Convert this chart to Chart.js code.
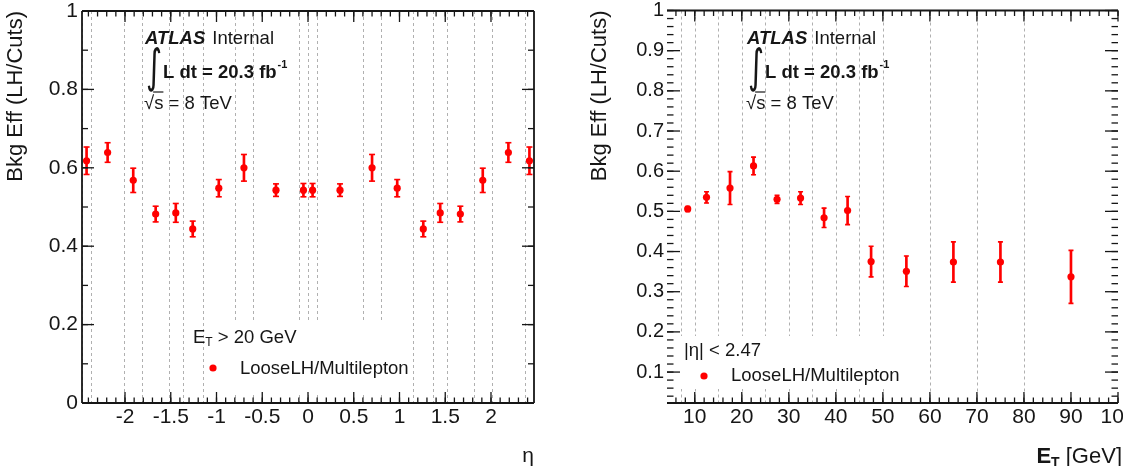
<!DOCTYPE html>
<html><head><meta charset="utf-8">
<script src="https://cdn.jsdelivr.net/npm/chart.js@4.4.1/dist/chart.umd.min.js"></script>
<style>
html,body{margin:0;padding:0;background:#fff;}
#wrap{position:relative;width:1123px;height:466px;overflow:hidden;background:#fff;}
#c1{position:absolute;left:0;top:0;}
#c2{position:absolute;left:560px;top:0;}
</style></head><body>
<div id="wrap"><canvas id="c1" width="560" height="466"></canvas><canvas id="c2" width="563" height="466"></canvas></div>
<script>
const FONT = "'Liberation Sans', Arial, Helvetica, sans-serif";
const RED = '#ff0000';
const INK = '#161616';

// ---------- left panel: efficiency vs eta ----------
const etaBinEdges = [-2.47,-2.37,-2.01,-1.81,-1.52,-1.37,-1.15,-0.8,-0.6,-0.1,0,0.1,0.6,0.8,1.15,1.37,1.52,1.81,2.01,2.37,2.47];
const etaCenters  = [-2.42,-2.19,-1.91,-1.665,-1.445,-1.26,-0.975,-0.7,-0.35,-0.05,0.05,0.35,0.7,0.975,1.26,1.445,1.665,1.91,2.19,2.42];
const etaEff      = [0.618,0.639,0.568,0.482,0.485,0.444,0.548,0.600,0.543,0.543,0.543,0.543,0.600,0.548,0.444,0.485,0.482,0.568,0.639,0.618];
const etaErr      = [0.035,0.025,0.031,0.020,0.024,0.020,0.022,0.034,0.016,0.017,0.017,0.016,0.034,0.022,0.020,0.024,0.020,0.031,0.025,0.035];
const etaTickValues = [-2,-1.5,-1,-0.5,0,0.5,1,1.5,2];
const etaTickLabels = ['-2','-1.5','-1','-0.5','0','0.5','1','1.5','2'];
const effTickValuesL = [0,0.2,0.4,0.6,0.8,1];
const effTickLabelsL = ['0','0.2','0.4','0.6','0.8','1'];

// ---------- right panel: efficiency vs ET ----------
const etBinEdges = [7,10,15,20,25,30,35,40,45,50,60,70,80,100];
const etCenters  = [8.5,12.5,17.5,22.5,27.5,32.5,37.5,42.5,47.5,55,65,75,90];
const etEff      = [0.506,0.535,0.558,0.613,0.530,0.533,0.484,0.502,0.375,0.351,0.374,0.374,0.337];
const etErr      = [0.006,0.014,0.041,0.022,0.010,0.016,0.024,0.035,0.038,0.038,0.050,0.050,0.066];
const etTickValues = [10,20,30,40,50,60,70,80,90,100];
const etTickLabels = ['10','20','30','40','50','60','70','80','90','100'];
const effTickValuesR = [0.1,0.2,0.3,0.4,0.5,0.6,0.7,0.8,0.9,1];
const effTickLabelsR = ['0.1','0.2','0.3','0.4','0.5','0.6','0.7','0.8','0.9','1'];

function range(a, b, step) {
  const out = [];
  const n = Math.round((b - a) / step);
  for (let i = 0; i <= n; i++) out.push(Math.round((a + i * step) * 1000) / 1000);
  return out;
}

function errorDatasets(xs, ys, es, capR) {
  const caps = [];
  xs.forEach((x, i) => { caps.push({x, y: ys[i] - es[i]}); caps.push({x, y: ys[i] + es[i]}); });
  return [
    {type: 'scatter', data: xs.map((x, i) => ({x, y: ys[i]})), pointRadius: 3.6, pointBackgroundColor: RED,
     pointBorderWidth: 0, pointHoverRadius: 3.6, order: 0},
    {type: 'scatter', data: caps, pointStyle: 'line', pointRadius: capR, pointBorderColor: RED,
     pointBorderWidth: 1.6, pointHoverRadius: capR, order: 1},
    {type: 'bar', data: xs.map((x, i) => ({x, y: [ys[i] - es[i], ys[i] + es[i]]})), backgroundColor: RED,
     barThickness: 2, borderWidth: 0, grouped: false, order: 2}
  ];
}

function seg(ctx, x1, y1, x2, y2) { ctx.beginPath(); ctx.moveTo(x1, y1); ctx.lineTo(x2, y2); ctx.stroke(); }

function atlasLabel(ctx, x0) {
  ctx.save();
  ctx.fillStyle = INK; ctx.textBaseline = 'middle'; ctx.textAlign = 'left';
  ctx.font = `italic bold 18.5px ${FONT}`; ctx.fillText('ATLAS', x0, 39);
  const wa = ctx.measureText('ATLAS').width;
  ctx.font = `18.5px ${FONT}`; ctx.fillText('Internal', x0 + wa + 7, 39);
  ctx.font = `bold 18.5px ${FONT}`; ctx.fillText('L dt = 20.3 fb', x0 + 18, 73);
  const w = ctx.measureText('L dt = 20.3 fb').width;
  ctx.font = `bold 11px ${FONT}`; ctx.fillText('-1', x0 + 18 + w + 1, 65);
  ctx.font = `18.5px ${FONT}`; ctx.fillText('\u221As = 8 TeV', x0 - 1, 104);
  const wr = ctx.measureText('\u221A').width, ws = ctx.measureText('\u221As').width;
  ctx.strokeStyle = INK; ctx.lineWidth = 1.2;
  seg(ctx, x0 - 1 + wr - 1, 92, x0 - 1 + ws, 92);
  ctx.font = `44px 'DejaVu Sans'`;
  ctx.translate(x0 + 1, 70); ctx.scale(0.7, 1.05);
  ctx.fillText('\u222B', 0, 0);
  ctx.restore();
}

function drawTickMarks(chart, tk, frame) {
  const ctx = chart.ctx;
  const a = chart.chartArea;
  const xs = chart.scales.x, ys = chart.scales.y;
  ctx.save();
  ctx.setLineDash([]);
  ctx.strokeStyle = '#161616';
  ctx.lineWidth = 1.3;
  for (const v of tk.xMinor) { const p = xs.getPixelForValue(v); seg(ctx, p, a.bottom, p, a.bottom - tk.xMinLen); seg(ctx, p, a.top, p, a.top + tk.xMinLen); }
  for (const v of tk.xMajor) { const p = xs.getPixelForValue(v); seg(ctx, p, a.bottom, p, a.bottom - tk.xMajLen); seg(ctx, p, a.top, p, a.top + tk.xMajLen); }
  for (const v of tk.yMinor) { const p = ys.getPixelForValue(v); seg(ctx, a.left, p, a.left + tk.yMinLen, p); seg(ctx, a.right, p, a.right - tk.yMinLen, p); }
  for (const v of tk.yMajor) { const p = ys.getPixelForValue(v); seg(ctx, a.left, p, a.left + tk.yMajLen, p); seg(ctx, a.right, p, a.right - tk.yMajLen, p); }
  ctx.lineWidth = 1.8;
  if (frame.top) seg(ctx, a.left, a.top, a.right, a.top);
  if (frame.bottom) seg(ctx, a.left, a.bottom, a.right, a.bottom);
  if (frame.left) seg(ctx, a.left, a.top, a.left, a.bottom);
  if (frame.right) seg(ctx, a.right, a.top, a.right, a.bottom);
  ctx.restore();
}

function decoPlugin(cfg) {
  return {
    id: 'deco_' + cfg.name,
    beforeDatasetsDraw(chart) {
      const ctx = chart.ctx, a = chart.chartArea, x = chart.scales.x;
      ctx.save();
      ctx.beginPath(); ctx.rect(a.left, a.top, a.right - a.left, a.bottom - a.top); ctx.clip();
      ctx.strokeStyle = '#b0b0b0'; ctx.lineWidth = 1; ctx.setLineDash([3, 3]);
      cfg.edges.forEach(e => {
        const p = Math.round(x.getPixelForValue(e)) + 0.5;
        seg(ctx, p, a.top, p, a.bottom);
      });
      ctx.setLineDash([]);
      ctx.fillStyle = '#fff';
      ctx.fillRect(cfg.box[0], cfg.box[1], cfg.box[2], cfg.box[3]);
      ctx.restore();
    },
    afterDatasetsDraw(chart) {
      drawTickMarks(chart, cfg.marks, cfg.frame);
    },
    afterDraw(chart) {
      atlasLabel(chart.ctx, cfg.atlasX);
      cfg.texts(chart.ctx);
    }
  };
}

function axisCfg(min, max, vals, labels, fit, title, fontSize, pad) {
  return {
    type: 'linear', min, max, offset: false,
    grid: {display: false, drawTicks: false},
    border: {display: false},
    ticks: {font: {family: FONT, size: fontSize, lineHeight: 1}, color: INK, padding: pad,
            autoSkip: false, maxRotation: 0, minRotation: 0,
            callback: (v, i) => labels[i]},
    afterBuildTicks: s => { s.ticks = vals.map(v => ({value: v})); },
    afterFit: fit,
    title: title
  };
}

const common = {
  responsive: false, animation: false, devicePixelRatio: 1,
  plugins: {legend: {display: false}, tooltip: {enabled: false}},
  events: []
};

// LEFT CHART
new Chart(document.getElementById('c1'), {
  type: 'scatter',
  data: {datasets: errorDatasets(etaCenters, etaEff, etaErr, 3)},
  options: Object.assign({}, common, {
    layout: {padding: {left: 0, top: 11, right: 26, bottom: 0}},
    scales: {
      x: axisCfg(-2.47, 2.47, etaTickValues, etaTickLabels,
        s => { s.height = 63; s.paddingLeft = 0; s.paddingRight = 0; },
        {display: true, text: '\u03B7', align: 'end', color: INK, font: {family: FONT, size: 21, lineHeight: 0.9}, padding: 0},
        21, 4),
      y: axisCfg(0, 1, effTickValuesL, effTickLabelsL,
        s => { s.width = 82; s.paddingTop = 0; s.paddingBottom = 0; },
        {display: true, text: 'Bkg Eff (LH/Cuts)', align: 'end', color: INK, font: {family: FONT, size: 22, lineHeight: 1.2}, padding: {top: 3, bottom: 0}},
        21, 4)
    }
  }),
  plugins: [decoPlugin({
    name: 'left', edges: etaBinEdges, box: [210, 323, 200, 69],
    frame: {top: true, bottom: true, left: true, right: true},
    marks: {xMajor: etaTickValues, xMinor: range(-2.4, 2.4, 0.1), xMajLen: 11, xMinLen: 5.5,
            yMajor: effTickValuesL, yMinor: range(0, 1, 0.1), yMajLen: 12, yMinLen: 6},
    atlasX: 145,
    texts: ctx => {
      ctx.save(); ctx.fillStyle = INK; ctx.textBaseline = 'middle'; ctx.textAlign = 'left';
      ctx.font = `18.5px ${FONT}`; ctx.fillText('E', 193, 338);
      let w = ctx.measureText('E').width;
      ctx.font = `12px ${FONT}`; ctx.fillText('T', 193 + w, 343);
      const w2 = ctx.measureText('T').width;
      ctx.font = `18.5px ${FONT}`; ctx.fillText(' > 20 GeV', 193 + w + w2, 338);
      ctx.fillText('LooseLH/Multilepton', 240, 369);
      ctx.fillStyle = RED; ctx.beginPath(); ctx.arc(213, 368, 3.6, 0, Math.PI * 2); ctx.fill();
      ctx.restore();
    }
  })]
});

// RIGHT CHART
new Chart(document.getElementById('c2'), {
  type: 'scatter',
  data: {datasets: errorDatasets(etCenters, etEff, etErr, 2.5)},
  options: Object.assign({}, common, {
    layout: {padding: {left: 0, top: 10.5, right: 5, bottom: 0}},
    scales: {
      x: axisCfg(4.1, 100, etTickValues, etTickLabels,
        s => { s.height = 63; s.paddingLeft = 0; s.paddingRight = 0; },
        {display: false}, 21, 4),
      y: axisCfg(0.023, 1, effTickValuesR, effTickLabelsR,
        s => { s.width = 107; s.paddingTop = 0; s.paddingBottom = 0; },
        {display: true, text: 'Bkg Eff (LH/Cuts)', align: 'end', color: INK, font: {family: FONT, size: 22, lineHeight: 1.2}, padding: {top: 26.5, bottom: 0}},
        20, 3)
    }
  }),
  plugins: [decoPlugin({
    name: 'right', edges: etBinEdges, box: [108, 336, 247, 53],
    frame: {top: true, bottom: true, left: false, right: false},
    marks: {xMajor: etTickValues, xMinor: range(6, 100, 2), xMajLen: 11, xMinLen: 5.5,
            yMajor: effTickValuesR, yMinor: range(0.04, 1, 0.02), yMajLen: 13, yMinLen: 6.5},
    atlasX: 187,
    texts: ctx => {
      ctx.save(); ctx.fillStyle = INK; ctx.textBaseline = 'middle'; ctx.textAlign = 'left';
      ctx.font = `18.5px ${FONT}`; ctx.fillText('|\u03B7| < 2.47', 124, 351);
      ctx.fillText('LooseLH/Multilepton', 171, 376);
      ctx.fillStyle = RED; ctx.beginPath(); ctx.arc(144, 376, 3.6, 0, Math.PI * 2); ctx.fill();
      // x-axis title E_T [GeV]
      ctx.fillStyle = INK;
      ctx.font = `bold 22px ${FONT}`; const wE = ctx.measureText('E').width;
      ctx.font = `bold 14px ${FONT}`; const wT = ctx.measureText('T').width;
      ctx.font = `22px ${FONT}`; const wG = ctx.measureText(' [GeV]').width;
      const x0 = 562 - (wE + wT + wG);
      ctx.font = `bold 22px ${FONT}`; ctx.fillText('E', x0, 457);
      ctx.font = `bold 14px ${FONT}`; ctx.fillText('T', x0 + wE, 463);
      ctx.font = `22px ${FONT}`; ctx.fillText(' [GeV]', x0 + wE + wT, 457);
      ctx.restore();
    }
  })]
});
</script>
</body></html>
